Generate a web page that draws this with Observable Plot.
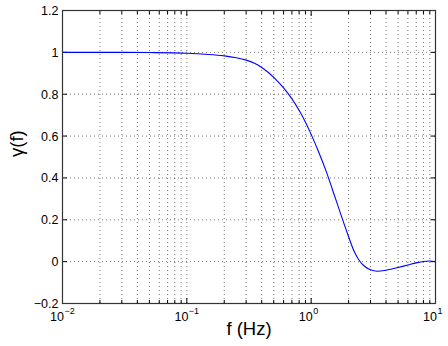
<!DOCTYPE html>
<html>
<head>
<meta charset="utf-8">
<script src="https://cdn.jsdelivr.net/npm/d3@7"></script>
<script src="https://cdn.jsdelivr.net/npm/@observablehq/plot@0.6"></script>
<style>
  html, body { margin: 0; padding: 0; background: #fff; }
  #chart svg { display: block; }
</style>
</head>
<body>
<div id="chart"></div>
<script>
// Curve samples (frequency in Hz, coherence value)
const freq  = [0.01, 0.02, 0.05, 0.1, 0.15, 0.2, 0.25, 0.3, 0.35, 0.4, 0.45, 0.5, 0.6, 0.7, 0.8, 0.9, 1.0, 1.14, 1.31, 1.58, 1.79, 2.0, 2.22, 2.42, 2.67, 3.0, 3.4, 4.0, 4.4, 5, 6, 7, 8, 9, 10];
const gamma = [1.0, 1.0, 0.999, 0.996, 0.99, 0.983, 0.974, 0.963, 0.948, 0.928, 0.905, 0.880, 0.830, 0.778, 0.723, 0.666, 0.608, 0.529, 0.437, 0.296, 0.201, 0.119, 0.048, 0.008, -0.021, -0.039, -0.046, -0.041, -0.036, -0.028, -0.016, -0.006, 0.001, 0.003, 0.0];

// Axis ticks and labels
const xTickValues = [0.01, 0.1, 1, 10];
const xTickBase = ["10", "10", "10", "10"];
const xTickExponents = ["\u22122", "\u22121", "0", "1"];
const yTicks = [-0.2, 0, 0.2, 0.4, 0.6, 0.8, 1, 1.2];
const yTickLabels = ["\u22120.2", "0", "0.2", "0.4", "0.6", "0.8", "1", "1.2"];
const xTitle = "f (Hz)";
const yTitle = "\u03b3(f)";

const data = freq.map((f, i) => ({f, g: gamma[i]}));
const xMinor = d3.range(-2, 1).flatMap(e => d3.range(2, 10).map(k => +(k * 10 ** e).toPrecision(6)));
const xGrid = xMinor.concat(xTickValues.slice(1, -1));
const yGrid = yTicks.slice(1, -1);

const grid = {stroke: "#000", strokeOpacity: 0.55, strokeDasharray: "1,3", strokeWidth: 1};

const chart = Plot.plot({
  width: 448,
  height: 346,
  marginLeft: 62,
  marginRight: 13,
  marginTop: 10,
  marginBottom: 43,
  style: {fontFamily: "'Liberation Sans', Arial, Helvetica, sans-serif", background: "#fff", color: "#000"},
  x: {type: "log", domain: [0.01, 10]},
  y: {domain: [-0.2, 1.2]},
  marks: [
    Plot.ruleX(xGrid, grid),
    Plot.ruleY(yGrid, grid),
    // inward ticks on all four sides
    Plot.axisX({anchor: "bottom", ticks: xTickValues, tickSize: -5, tickFormat: () => "", label: null}),
    Plot.axisX({anchor: "top", ticks: xTickValues, tickSize: -5, tickFormat: () => "", label: null}),
    Plot.axisX({anchor: "bottom", ticks: xMinor, tickSize: -3, tickFormat: () => "", label: null}),
    Plot.axisX({anchor: "top", ticks: xMinor, tickSize: -3, tickFormat: () => "", label: null}),
    Plot.axisY({anchor: "right", ticks: yTicks, tickSize: -5, tickFormat: () => "", label: null}),
    Plot.axisY({anchor: "left", ticks: yTicks, tickSize: -5, tickFormat: () => "", label: null}),
    // y tick labels
    Plot.text(yTicks, {y: d => d, text: (d, i) => yTickLabels[i], frameAnchor: "left", textAnchor: "end", dx: -4, dy: 0.5, fontSize: 12.5}),
    // x tick labels: base and exponent
    Plot.text(xTickValues, {x: d => d, text: (d, i) => xTickBase[i], frameAnchor: "bottom", textAnchor: "end", dx: 1.5, dy: 17, fontSize: 12.5}),
    Plot.text(xTickValues, {x: d => d, text: (d, i) => xTickExponents[i], frameAnchor: "bottom", textAnchor: "start", dx: 2, dy: 10, fontSize: 9}),
    // titles
    Plot.text([xTitle], {frameAnchor: "bottom", dy: 31, fontSize: 18.5}),
    Plot.text([yTitle], {frameAnchor: "left", dx: -45, rotate: -90, fontSize: 18.5}),
    Plot.line(data, {x: "f", y: "g", stroke: "#0000ff", strokeWidth: 1.1, curve: "catmull-rom"}),
    Plot.frame({stroke: "#333", strokeWidth: 1.2})
  ]
});
document.getElementById("chart").appendChild(chart);
</script>
</body>
</html>
